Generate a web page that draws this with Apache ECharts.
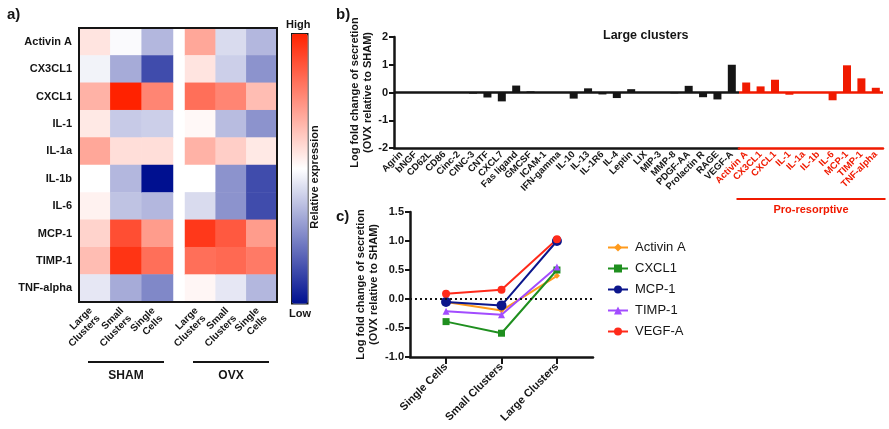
<!DOCTYPE html>
<html>
<head>
<meta charset="utf-8">
<script src="https://cdn.jsdelivr.net/npm/echarts@6/dist/echarts.min.js"></script>
<style>
  html, body { margin: 0; padding: 0; background: #fff; }
  #chart { width: 889px; height: 429px; }
</style>
</head>
<body>
<div id="chart"></div>
<script>
// ---- a) heatmap ----
const heatRows = ['Activin A', 'CX3CL1', 'CXCL1', 'IL-1', 'IL-1a', 'IL-1b', 'IL-6', 'MCP-1', 'TIMP-1', 'TNF-alpha'];
const heatCols = ['Large\nClusters', 'Small\nClusters', 'Single\nCells'];
const shamLarge  = [0.12, -0.05, 0.35, 0.10, 0.40, 0.00, 0.06, 0.20, 0.30, -0.10];
const shamSmall  = [-0.02, -0.35, 1.00, -0.22, 0.15, -0.30, -0.25, 0.80, 0.92, -0.35];
const shamSingle = [-0.30, -0.75, 0.55, -0.20, 0.15, -1.00, -0.30, 0.45, 0.65, -0.50];
const ovxLarge   = [0.40, 0.12, 0.65, 0.03, 0.35, 0.00, -0.15, 0.90, 0.65, 0.04];
const ovxSmall   = [-0.15, -0.20, 0.55, -0.28, 0.22, -0.45, -0.45, 0.75, 0.68, -0.10];
const ovxSingle  = [-0.30, -0.45, 0.30, -0.45, 0.10, -0.75, -0.75, 0.45, 0.60, -0.30];

// ---- b) bars, large clusters ----
const otherCats = ['Agrin', 'bNGF', 'CD62L', 'CD86', 'Cinc-2', 'CINC-3', 'CNTF', 'CXCL7', 'Fas ligand', 'GMCSF',
  'ICAM-1', 'IFN-gamma', 'IL-10', 'IL-13', 'IL-1R6', 'IL-4', 'Leptin', 'LIX', 'MIP-3', 'MMP-8',
  'PDGF-AA', 'Prolactin R', 'RAGE', 'VEGF-A'];
const otherVals = [0, 0, 0, 0, 0, -0.04, -0.18, -0.32, 0.25, 0.04,
  0.01, 0, -0.22, 0.15, -0.07, -0.2, 0.12, 0, 0, -0.03,
  0.24, -0.17, -0.25, 1.0];
const resorpCats = ['Activin A', 'CX3CL1', 'CXCL1', 'IL-1', 'IL-1a', 'IL-1b', 'IL-6', 'MCP-1', 'TIMP-1', 'TNF-alpha'];
const resorpVals = [0.36, 0.22, 0.46, -0.08, 0.01, 0, -0.28, 0.98, 0.51, 0.17];

// ---- c) lines ----
const lineCats = ['Single Cells', 'Small Clusters', 'Large Clusters'];
const activinA = [-0.05, -0.2, 0.4];
const cxcl1 = [-0.39, -0.59, 0.5];
const mcp1 = [-0.05, -0.11, 1.0];
const timp1 = [-0.21, -0.27, 0.55];
const vegfA = [0.09, 0.16, 1.03];

const FONT = 'Liberation Sans, Arial, sans-serif';
const RED = '#f01a00';
const INK = '#151515';

function heatData(cols) {
  const out = [];
  cols.forEach((col, c) => col.forEach((v, r) => out.push([c, r, v])));
  return out;
}

function heatX(grid, name) {
  return {
    type: 'category', gridIndex: grid, data: heatCols,
    axisLine: { lineStyle: { color: INK, width: 2 } },
    axisTick: { alignWithLabel: true, interval: 0, length: 8, lineStyle: { color: INK, width: 2 } },
    axisLabel: { interval: 0, rotate: 45, fontSize: 10, fontWeight: 'bold', color: INK, fontFamily: FONT, margin: 11, lineHeight: 11 },
    name: '{l|}\n{t|' + name + '}', nameLocation: 'middle', nameGap: 53,
    nameTextStyle: {
      rich: {
        l: { width: 76, height: 2, backgroundColor: INK },
        t: { fontSize: 12, fontWeight: 'bold', color: INK, fontFamily: FONT, lineHeight: 26 }
      }
    }
  };
}

const yNameStyle = { fontSize: 11, fontWeight: 'bold', color: INK, fontFamily: FONT, lineHeight: 13 };
const yName = 'Log fold change of secretion\n(OVX relative to SHAM)';

function barX(grid, cats, color, name) {
  const ax = {
    type: 'category', gridIndex: grid, data: cats,
    axisLine: { onZero: false, lineStyle: { color: color, width: 2.5 } },
    axisTick: { alignWithLabel: true, interval: 0, length: 5, lineStyle: { color: color, width: 2 } },
    axisLabel: { interval: 0, rotate: 45, fontSize: 9.5, fontWeight: 'bold', color: color, fontFamily: FONT, margin: 5 }
  };
  if (name) {
    ax.name = '{l|}\n{t|' + name + '}';
    ax.nameLocation = 'middle';
    ax.nameGap = 50;
    ax.nameTextStyle = {
      rich: {
        l: { width: 149, height: 2, backgroundColor: color },
        t: { fontSize: 11, fontWeight: 'bold', color: color, fontFamily: FONT, lineHeight: 20 }
      }
    };
  }
  return ax;
}

function barSeries(idx, vals, color) {
  return {
    type: 'bar', xAxisIndex: idx, yAxisIndex: idx, data: vals, barWidth: 8,
    itemStyle: { color: color },
    markLine: {
      silent: true, symbol: 'none', label: { show: false },
      lineStyle: { color: color, width: 2.5, type: 'solid' },
      data: [{ yAxis: 0 }]
    }
  };
}

function lineSeries(name, vals, color, symbol, size) {
  return {
    name: name, type: 'line', xAxisIndex: 4, yAxisIndex: 4,
    data: vals.map((v, i) => [i, v]),
    symbol: symbol, symbolSize: size,
    lineStyle: { color: color, width: 2 },
    itemStyle: { color: color }
  };
}

const chart = echarts.init(document.getElementById('chart'));
chart.setOption({
  animation: false,
  textStyle: { fontFamily: FONT },
  title: [
    { text: 'a)', left: 2, top: 2, textStyle: { fontSize: 15, fontWeight: 'bold', color: INK } },
    { text: 'b)', left: 331, top: 2, textStyle: { fontSize: 15, fontWeight: 'bold', color: INK } },
    { text: 'c)', left: 331, top: 204, textStyle: { fontSize: 15, fontWeight: 'bold', color: INK } },
    { text: 'Large clusters', left: 598, top: 24, textStyle: { fontSize: 12.5, fontWeight: 'bold', color: INK } },
    { text: 'High', left: 286, top: 19, padding: 0, textStyle: { fontSize: 11, fontWeight: 'bold', color: INK } },
    { text: 'Low', left: 289, top: 308, padding: 0, textStyle: { fontSize: 11, fontWeight: 'bold', color: INK } }
  ],
  graphic: [{
    type: 'text', x: 315, y: 177, rotation: Math.PI / 2,
    style: { text: 'Relative expression', fontSize: 11, fontWeight: 'bold', fill: INK, fontFamily: FONT, align: 'center', verticalAlign: 'middle' }
  }],
  grid: [
    { left: 79, top: 28, width: 94, height: 274 },
    { left: 185, top: 28, width: 92, height: 274 },
    { left: 394, top: 37, width: 345, height: 111 },
    { left: 739, top: 37, width: 144, height: 111 },
    { left: 410, top: 212, width: 183, height: 145 },
    { left: 79, top: 28, width: 198, height: 274, show: true, borderColor: INK, borderWidth: 2, backgroundColor: 'transparent', z: 5 }
  ],
  visualMap: {
    type: 'continuous', min: -1, max: 1, seriesIndex: [0, 1],
    calculable: false, left: 291, top: 33, itemWidth: 16, itemHeight: 270,
    padding: 0, borderColor: INK, borderWidth: 1.5, text: null, showLabel: false,
    inRange: { color: ['#001090', '#ffffff', '#ff2200'] }
  },
  legend: {
    orient: 'vertical', left: 602, top: 236, itemGap: 8, itemWidth: 20, itemHeight: 10,
    textStyle: { fontSize: 13, color: INK, fontFamily: FONT, padding: [0, 0, 0, 2] },
    data: ['Activin A', 'CXCL1', 'MCP-1', 'TIMP-1', 'VEGF-A']
  },
  xAxis: [
    heatX(0, 'SHAM'),
    heatX(1, 'OVX'),
    barX(2, otherCats, INK),
    barX(3, resorpCats, RED, 'Pro-resorptive'),
    {
      type: 'value', gridIndex: 4, min: -0.65, max: 2.65, splitLine: { show: false },
      axisLine: { onZero: false, lineStyle: { color: INK, width: 2.5 } },
      axisTick: { customValues: [0, 1, 2], length: 7, lineStyle: { color: INK, width: 2 } },
      axisLabel: {
        customValues: [0, 1, 2], formatter: v => lineCats[v],
        rotate: 45, fontSize: 11, fontWeight: 'bold', color: INK, fontFamily: FONT, margin: 8
      }
    }
  ],
  yAxis: [
    {
      type: 'category', gridIndex: 0, data: heatRows, inverse: true,
      axisLine: { lineStyle: { color: INK, width: 2 } },
      axisTick: { alignWithLabel: true, interval: 0, length: 5, lineStyle: { color: INK, width: 2 } },
      axisLabel: { interval: 0, fontSize: 11, fontWeight: 'bold', color: INK, fontFamily: FONT, margin: 7 }
    },
    {
      type: 'category', gridIndex: 1, data: heatRows, inverse: true,
      axisLine: { show: false }, axisTick: { show: false }, axisLabel: { show: false }
    },
    {
      type: 'value', gridIndex: 2, min: -2, max: 2, interval: 1, splitLine: { show: false },
      axisLine: { show: true, onZero: false, lineStyle: { color: INK, width: 2.5 } },
      axisTick: { show: true, length: 5, lineStyle: { color: INK, width: 2 } },
      axisLabel: { fontSize: 11, fontWeight: 'bold', color: INK, fontFamily: FONT, margin: 6 },
      name: yName, nameLocation: 'middle', nameGap: 18, nameTextStyle: yNameStyle
    },
    {
      type: 'value', gridIndex: 3, min: -2, max: 2, interval: 1, splitLine: { show: false },
      axisLine: { show: false }, axisTick: { show: false }, axisLabel: { show: false }
    },
    {
      type: 'value', gridIndex: 4, min: -1, max: 1.5, interval: 0.5, splitLine: { show: false },
      axisLine: { show: true, onZero: false, lineStyle: { color: INK, width: 2.5 } },
      axisTick: { show: true, length: 5, lineStyle: { color: INK, width: 2 } },
      axisLabel: { fontSize: 11, fontWeight: 'bold', color: INK, fontFamily: FONT, margin: 6, formatter: v => v.toFixed(1) },
      name: yName, nameLocation: 'middle', nameGap: 30, nameTextStyle: yNameStyle
    }
  ],
  series: [
    { type: 'heatmap', xAxisIndex: 0, yAxisIndex: 0, data: heatData([shamLarge, shamSmall, shamSingle]) },
    { type: 'heatmap', xAxisIndex: 1, yAxisIndex: 1, data: heatData([ovxLarge, ovxSmall, ovxSingle]) },
    barSeries(2, otherVals, INK),
    barSeries(3, resorpVals, RED),
    Object.assign(lineSeries('Activin A', activinA, '#ff9a1c', 'diamond', 6), {
      markLine: {
        silent: true, symbol: 'none', label: { show: false },
        lineStyle: { color: INK, width: 2, type: [2, 3] },
        data: [{ yAxis: 0 }]
      }
    }),
    lineSeries('CXCL1', cxcl1, '#1f8f1f', 'rect', 7),
    lineSeries('MCP-1', mcp1, '#0c168c', 'circle', 10),
    lineSeries('TIMP-1', timp1, '#a24cff', 'triangle', 7),
    lineSeries('VEGF-A', vegfA, '#ff2a1a', 'circle', 8)
  ]
});
</script>
</body>
</html>
